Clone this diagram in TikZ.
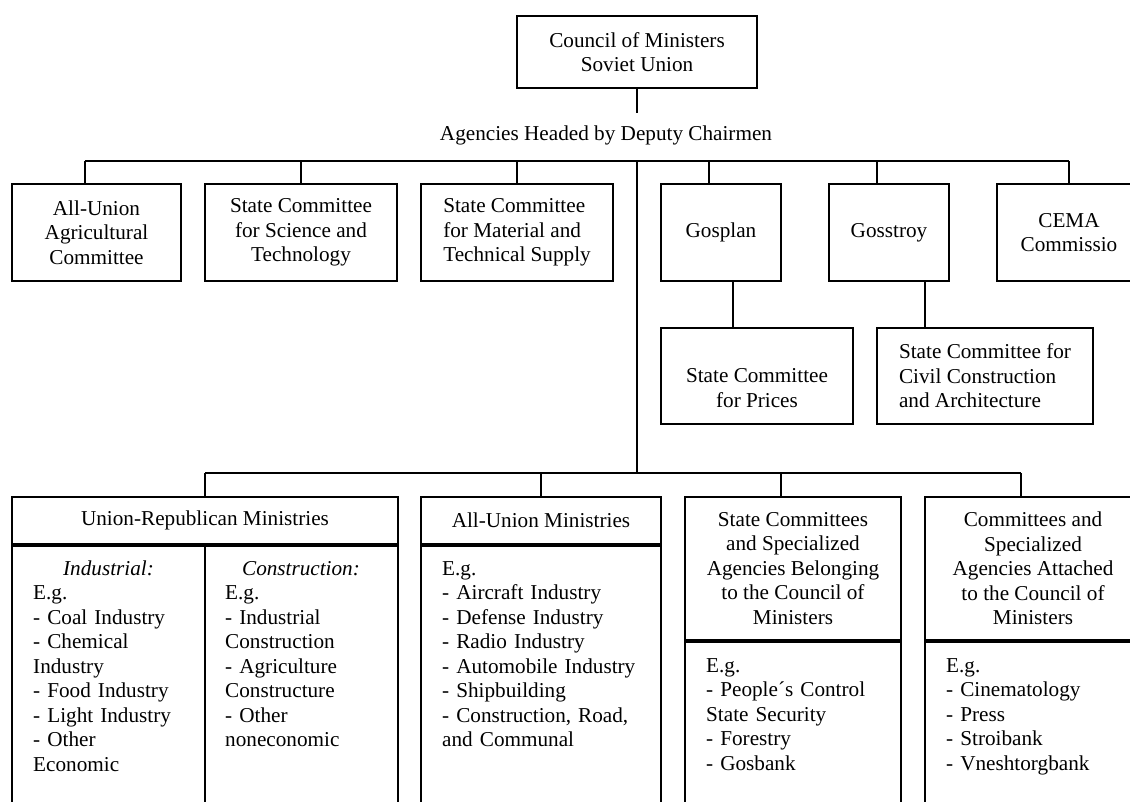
\documentclass[tikz,border=0pt]{standalone}
\usepackage{fontspec}
\setmainfont{Liberation Serif}

\begin{document}
\begin{tikzpicture}[
    x=1pt, y=-1pt,
    every node/.style={font=\fontsize{21.2pt}{24.5pt}\selectfont},
    box/.style={rectangle, draw=black, line width=1.8pt, align=center, inner sep=0pt},
    panel/.style={rectangle, draw=black, line width=1.8pt, inner sep=0pt},
    entry/.style={align=left, text width=200pt, inner sep=0pt, anchor=base west},
    link/.style={draw=black, line width=1.8pt},
]

\useasboundingbox (0,0) rectangle (1130,802);
\clip (0,0) rectangle (1130,802);

% top of the tree
\node[box, minimum width=240, minimum height=72] (council) at (637,52) {Council of Ministers\\Soviet Union};
\node[inner sep=0pt] (deputies) at (606,135) {Agencies Headed by Deputy Chairmen};

% agencies headed by deputy chairmen
\node[box, minimum width=169, minimum height=97] (agri) at (96.5,232.5) {All-Union\\Agricultural\\Committee};
\node[box, minimum width=192, minimum height=97] (science) at (301,232.5) {State Committee\\for Science and\\Technology};
\node[box, minimum width=192, minimum height=97, align=left] (supply) at (517,232.5) {State Committee\\for Material and\\Technical Supply};
\node[box, minimum width=120, minimum height=97] (gosplan) at (721,232.5) {Gosplan};
\node[box, minimum width=120, minimum height=97] (gosstroy) at (889,232.5) {Gosstroy};
\node[box, minimum width=144, minimum height=97] (cema) at (1069,232.5) {CEMA\\Commissio};

\node[box, minimum width=192, minimum height=96] (prices) at (757,376) {\vphantom{X}\\State Committee\\for Prices};
\node[box, minimum width=216, minimum height=96, align=left] (civil) at (985,376) {State Committee for\\Civil Construction\\and Architecture};

% connectors, upper part
\coordinate (cstub) at (637,113);
\coordinate (busL) at (85,161);
\coordinate (busR) at (1069,161);
\coordinate (hub) at (637,161);
\coordinate (planstub) at ([xshift=-12]gosplan.north);
\coordinate (stroystub) at ([xshift=-12]gosstroy.north);
\coordinate (planfoot) at ([xshift=12]gosplan.south);
\coordinate (stroyfoot) at ([xshift=36]gosstroy.south);

\draw[link] (council.south) -- (cstub);
\draw[link] (busL) -- (busR);
\draw[link] (busL) -- (busL |- agri.north);
\draw[link] (science.north) -- (science.north |- busL);
\draw[link] (supply.north) -- (supply.north |- busL);
\draw[link] (planstub) -- (planstub |- busL);
\draw[link] (stroystub) -- (stroystub |- busL);
\draw[link] (busR) -- (busR |- cema.north);
\draw[link] (planfoot) -- (planfoot |- prices.north);
\draw[link] (stroyfoot) -- (stroyfoot |- civil.north);

% ministries and committees
\node[box, minimum width=386, minimum height=47] (unionrep) at (205,520.5) {Union-Republican Ministries};
\node[box, minimum width=240, minimum height=47] (allunion) at (541,520.5) {All-Union Ministries};
\node[box, minimum width=216, minimum height=143] (belonging) at (793,568.5) {State Committees\\and Specialized\\Agencies Belonging\\to the Council of\\Ministers};
\node[box, minimum width=216, minimum height=143] (attached) at (1033,568.5) {Committees and\\Specialized\\Agencies Attached\\to the Council of\\Ministers};

\node[panel, minimum width=386, minimum height=300, anchor=north] (unionrepbody) at (unionrep.south) {};
\node[panel, minimum width=240, minimum height=300, anchor=north] (allunionbody) at (allunion.south) {};
\node[panel, minimum width=216, minimum height=220, anchor=north] (belongingbody) at (belonging.south) {};
\node[panel, minimum width=216, minimum height=220, anchor=north] (attachedbody) at (attached.south) {};
\draw[link] (unionrepbody.north) -- (unionrepbody.south);

% connectors, lower part
\coordinate (lowL) at (205,473);
\coordinate (lowR) at (1021,473);
\coordinate (belongstub) at ([xshift=-12]belonging.north);

\draw[link] (hub) -- (hub |- lowL);
\draw[link] (lowL) -- (lowR);
\draw[link] (lowL) -- (lowL |- unionrep.north);
\draw[link] (allunion.north) -- (allunion.north |- lowL);
\draw[link] (belongstub) -- (belongstub |- lowL);
\draw[link] (lowR) -- (lowR |- attached.north);

% examples
\node[inner sep=0pt, anchor=base] (industrial) at (108.5,575) {\textit{Industrial:}};
\node[inner sep=0pt, anchor=base] (construction) at (301,575) {\textit{Construction:}};
\node[entry] (industrylist) at (33,599.5) {E.g.\\- Coal Industry\\- Chemical\\Industry\\- Food Industry\\- Light Industry\\- Other\\Economic};
\node[entry] (constructlist) at (225,599.5) {E.g.\\- Industrial\\Construction\\- Agriculture\\Constructure\\- Other\\noneconomic};
\node[entry] (allunionlist) at (442,575) {E.g.\\- Aircraft Industry\\- Defense Industry\\- Radio Industry\\- Automobile Industry\\- Shipbuilding\\- Construction, Road,\\and Communal};
\node[entry] (belonginglist) at (706,672) {E.g.\\- People´s Control\\State Security\\- Forestry\\- Gosbank};
\node[entry] (attachedlist) at (946,672) {E.g.\\- Cinematology\\- Press\\- Stroibank\\- Vneshtorgbank};

\end{tikzpicture}
\end{document}
